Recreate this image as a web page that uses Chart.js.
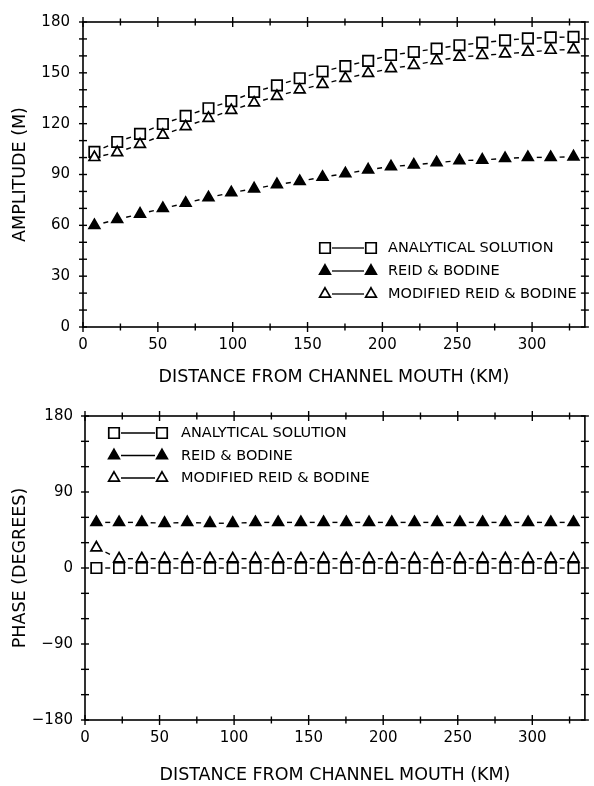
<!DOCTYPE html>
<html><head><meta charset="utf-8">
<script src="https://cdn.jsdelivr.net/npm/chart.js@4/dist/chart.umd.min.js"></script>
<style>
html,body{margin:0;padding:0;background:#fff;}
#w1{position:absolute;left:0;top:0;width:594px;height:395px;}
#w2{position:absolute;left:0;top:395px;width:594px;height:391px;}
</style></head><body>
<div id="w1"><canvas id="c1"></canvas></div>
<div id="w2"><canvas id="c2"></canvas></div>
<script>
// ---- data ----
const distanceKm = [7.62, 22.86, 38.1, 53.34, 68.58, 83.82, 99.06, 114.3, 129.54, 144.78, 160.02,
  175.26, 190.5, 205.74, 220.98, 236.22, 251.46, 266.7, 281.94, 297.18, 312.42, 327.66];
const amplitudeAnalytical = [103.4, 109.2, 114.0, 119.8, 124.6, 129.1, 133.3, 138.7, 142.6, 146.8, 150.8,
  154.0, 157.1, 160.5, 162.3, 164.3, 166.3, 167.8, 169.2, 170.3, 170.9, 171.2];
const amplitudeReidBodine = [60.0, 63.5, 66.7, 70.0, 73.1, 76.4, 79.3, 81.6, 84.1, 86.0, 88.5,
  90.5, 92.8, 94.7, 95.7, 97.0, 98.2, 98.6, 99.5, 100.1, 100.1, 100.5];
const amplitudeModified = [100.1, 103.0, 107.8, 113.3, 118.3, 123.2, 127.9, 132.3, 136.2, 140.0, 143.3,
  146.8, 149.7, 152.6, 154.5, 157.2, 159.3, 160.3, 161.3, 162.2, 163.4, 163.8];
const phaseAnalytical = [0, 0, 0, 0, 0, 0, 0, 0, 0, 0, 0, 0, 0, 0, 0, 0, 0, 0, 0, 0, 0, 0];
const phaseReidBodine = [54, 54, 54, 53, 54, 53, 53, 54, 54, 54, 54, 54, 54, 54, 54, 54, 54, 54, 54, 54, 54, 54];
const phaseModified = [24, 11, 11, 11, 11, 11, 11, 11, 11, 11, 11, 11, 11, 11, 11, 11, 11, 11, 11, 11, 11, 11];
const distanceTicks = [0, 50, 100, 150, 200, 250, 300];
const distanceMax = 335.28;
const amplitudeTicks = [0, 30, 60, 90, 120, 150, 180];
const phaseTicks = [-180, -90, 0, 90, 180];
const seriesNames = ['ANALYTICAL SOLUTION', 'REID & BODINE', 'MODIFIED REID & BODINE'];
const xTitle = 'DISTANCE FROM CHANNEL MOUTH (KM)';

// ---- styling ----
Chart.defaults.font.family = "'DejaVu Sans', sans-serif";
Chart.defaults.color = '#000';
const FONT_TICK = 15, FONT_TITLE = 17.5, FONT_LEGEND = 14.5;
const DASH = 5;

const markerStyles = [
  {pointStyle: 'rect', radius: 7.4, fill: 'rgba(0,0,0,0)', order: 3},
  {pointStyle: 'triangle', radius: 6.2, fill: '#000', order: 2},
  {pointStyle: 'triangle', radius: 6.2, fill: '#fff', order: 1}
];

function xy(xs, ys) { return xs.map((x, i) => ({x, y: ys[i]})); }

function segLen(c) { return Math.hypot(c.p1.x - c.p0.x, c.p1.y - c.p0.y); }

function makeDatasets(series) {
  return series.map((vals, k) => {
    const m = markerStyles[k];
    return {
      label: seriesNames[k],
      data: xy(distanceKm, vals),
      order: m.order,
      borderColor: '#000',
      borderWidth: 1.4,
      pointStyle: m.pointStyle,
      pointRadius: m.radius,
      pointBackgroundColor: m.fill,
      pointBorderColor: '#000',
      pointBorderWidth: 1.7,
      tension: 0,
      fill: false,
      segment: {
        borderDash: c => [DASH, 1000 + c.p0DataIndex * 0.001],
        borderDashOffset: c => -(segLen(c) / 2 - DASH / 2)
      }
    };
  });
}

const frameTicks = {
  id: 'frameTicks',
  afterDraw(chart, args, opts) {
    const {ctx, chartArea: a, scales: {x, y}} = chart;
    ctx.save();
    ctx.strokeStyle = '#000';
    ctx.lineWidth = 1.6;
    ctx.strokeRect(a.left, a.top, a.right - a.left, a.bottom - a.top);
    ctx.lineWidth = 1.4;
    const seg = (x1, y1, x2, y2) => { ctx.beginPath(); ctx.moveTo(x1, y1); ctx.lineTo(x2, y2); ctx.stroke(); };
    for (let v = 0; v <= x.max + 1e-6; v += opts.xStep) {
      const px = x.getPixelForValue(v);
      const L = (v % (opts.xStep * 2) === 0) ? 5 : 3.5;
      seg(px, a.bottom - L, px, a.bottom + L);
      seg(px, a.top - L, px, a.top + L);
    }
    for (let v = y.min; v <= y.max + 1e-6; v += opts.yStep) {
      const py = y.getPixelForValue(v);
      seg(a.left - 4, py, a.left + 4, py);
      seg(a.right - 4, py, a.right + 4, py);
    }
    ctx.restore();
  }
};

const customLegend = {
  id: 'customLegend',
  afterDraw(chart, args, opts) {
    const ctx = chart.ctx;
    ctx.save();
    ctx.font = FONT_LEGEND + "px 'DejaVu Sans', sans-serif";
    ctx.textBaseline = 'middle';
    ctx.textAlign = 'left';
    chart.data.datasets.forEach((ds, k) => {
      const yy = opts.y + k * opts.gap;
      const m = markerStyles[k];
      ctx.strokeStyle = '#000';
      ctx.lineWidth = 1.3;
      ctx.beginPath();
      ctx.moveTo(opts.x1 + 7, yy);
      ctx.lineTo(opts.x2 - 7, yy);
      ctx.stroke();
      [opts.x1, opts.x2].forEach(px => {
        ctx.fillStyle = m.fill;
        ctx.strokeStyle = '#000';
        ctx.lineWidth = 1.7;
        Chart.helpers.drawPoint(ctx, {pointStyle: m.pointStyle, radius: m.radius, borderWidth: 1.7, rotation: 0}, px, yy);
      });
      ctx.fillStyle = '#000';
      ctx.fillText(ds.label, opts.tx, yy + 0.5);
    });
    ctx.restore();
  }
};

function makeChart(id, series, yTicks, yTitle, cfg) {
  return new Chart(document.getElementById(id), {
    type: 'line',
    data: {datasets: makeDatasets(series)},
    options: {
      responsive: true,
      maintainAspectRatio: false,
      animation: false,
      devicePixelRatio: 1,
      layout: {padding: {top: cfg.top, right: cfg.right, left: 0, bottom: 0}},
      plugins: {
        legend: {display: false},
        tooltip: {enabled: false},
        frameTicks: {xStep: 25, yStep: cfg.yStep},
        customLegend: cfg.legend
      },
      scales: {
        x: {
          type: 'linear', min: 0, max: distanceMax,
          grid: {display: false, drawTicks: false},
          border: {display: false},
          afterBuildTicks: s => { s.ticks = distanceTicks.map(v => ({value: v})); },
          afterFit: s => { s.height = cfg.xHeight; },
          ticks: {font: {size: FONT_TICK}, padding: 9, maxRotation: 0, autoSkip: false},
          title: {display: true, text: xTitle, font: {size: FONT_TITLE}, padding: {top: 0, bottom: cfg.xTitlePad}}
        },
        y: {
          type: 'linear', min: yTicks[0], max: yTicks[yTicks.length - 1],
          grid: {display: false, drawTicks: false},
          border: {display: false},
          afterBuildTicks: s => { s.ticks = yTicks.map(v => ({value: v})); },
          afterFit: s => { s.width = cfg.yWidth; },
          ticks: {font: {size: FONT_TICK}, padding: cfg.yPad, autoSkip: false,
            callback: v => (v < 0 ? '\u2212' + Math.abs(v) : String(v))},
          title: {display: true, text: yTitle, font: {size: FONT_TITLE}, padding: {top: 10, bottom: 0}}
        }
      }
    },
    plugins: [frameTicks, customLegend]
  });
}

makeChart('c1', [amplitudeAnalytical, amplitudeReidBodine, amplitudeModified], amplitudeTicks, 'AMPLITUDE (M)', {
  top: 16, right: 4, xHeight: 68, yWidth: 83, yPad: 13, yStep: 10, xTitlePad: 7,
  legend: {x1: 325, x2: 371, tx: 388, y: 248, gap: 23}
});
makeChart('c2', [phaseAnalytical, phaseReidBodine, phaseModified], phaseTicks, 'PHASE (DEGREES)', {
  top: 20, right: 2, xHeight: 66, yWidth: 85, yPad: 12, yStep: 30, xTitlePad: 0,
  legend: {x1: 114, x2: 162, tx: 181, y: 38, gap: 22.5}
});
</script>
</body></html>
